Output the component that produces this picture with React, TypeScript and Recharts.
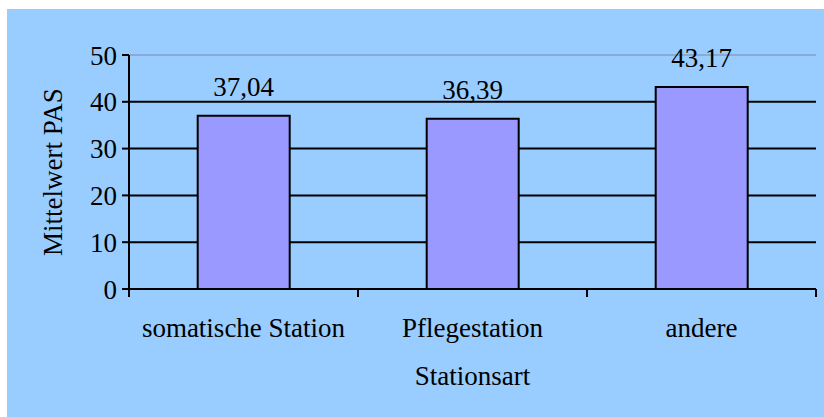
import React from 'react';
import { BarChart, Bar, XAxis, YAxis, CartesianGrid, LabelList, Label } from 'recharts';

// Mean PAS score per ward type
const stations = ['somatische Station', 'Pflegestation', 'andere'];
const meanPas = [37.04, 36.39, 43.17];
const yTicks = [0, 10, 20, 30, 40, 50];

const data = stations.map((station, i) => ({ station, pas: meanPas[i] }));

const FONT = '"Liberation Serif", "Times New Roman", serif';
const FONT_SIZE = 27;
const BG = '#99CCFF';
const BAR_FILL = '#9999FF';

const formatDe = (v: number) => v.toFixed(2).replace('.', ',');

// Category tick: label centred in the band, tick marks on the band boundaries
function StationTick(props: any) {
  const { x, y, payload } = props;
  const half = payload && typeof payload.offset === 'number' ? payload.offset : 0;
  return (
    <g>
      <line x1={x - half} y1={y} x2={x - half} y2={y + 8} stroke="#000" strokeWidth={2} />
      <line x1={x + half} y1={y} x2={x + half} y2={y + 8} stroke="#000" strokeWidth={2} />
      <text
        x={x}
        y={y + 48}
        textAnchor="middle"
        fontFamily={FONT}
        fontSize={FONT_SIZE}
        fill="#000"
      >
        {payload.value}
      </text>
    </g>
  );
}

// Horizontal grid: black rules, a thin grey line at the top of the plot
function GridLine(p: any) {
  const isTop = p.y1 < 60;
  return (
    <line
      key={`grid-${p.y1}`}
      x1={p.x1}
      y1={p.y1}
      x2={p.x2}
      y2={p.y2}
      stroke={isTop ? '#7a8aa6' : '#000'}
      strokeWidth={isTop ? 1 : 2}
    />
  );
}

export default function App() {
  return (
    <div style={{ position: 'absolute', left: 0, top: 0, width: 824, height: 417, background: '#fff' }}>
      <div style={{ position: 'absolute', left: 7, top: 9, width: 817, height: 408, background: BG }} />
      <div style={{ position: 'absolute', left: 0, top: 0 }}>
        <BarChart
          width={824}
          height={417}
          data={data}
          margin={{ top: 55, right: 8, bottom: 68, left: 49 }}
          barCategoryGap="30%"
        >
          <CartesianGrid vertical={false} horizontal={GridLine as any} />
          <XAxis
            dataKey="station"
            interval={0}
            height={60}
            tickLine={false}
            tickSize={0}
            tickMargin={0}
            axisLine={{ stroke: '#000', strokeWidth: 2 }}
            tick={<StationTick />}
          >
            <Label
              content={(props: any) => {
                const vb = props.viewBox || {};
                return (
                  <text
                    x={vb.x + vb.width / 2}
                    y={385}
                    textAnchor="middle"
                    fontFamily={FONT}
                    fontSize={FONT_SIZE}
                    fill="#000"
                  >
                    Stationsart
                  </text>
                );
              }}
            />
          </XAxis>
          <YAxis
            width={80}
            domain={[0, 50]}
            ticks={yTicks}
            interval={0}
            tickSize={7}
            tickMargin={5}
            tickLine={{ stroke: '#000', strokeWidth: 2 }}
            axisLine={{ stroke: '#000', strokeWidth: 2 }}
            tick={{ fontFamily: FONT, fontSize: FONT_SIZE, fill: '#000' }}
          >
            <Label
              content={(props: any) => {
                const vb = props.viewBox || {};
                const cy = vb.y + vb.height / 2;
                return (
                  <text
                    x={62}
                    y={cy}
                    transform={`rotate(-90 62 ${cy})`}
                    textAnchor="middle"
                    fontFamily={FONT}
                    fontSize={FONT_SIZE}
                    fill="#000"
                  >
                    Mittelwert PAS
                  </text>
                );
              }}
            />
          </YAxis>
          <Bar dataKey="pas" fill={BAR_FILL} stroke="#000" strokeWidth={2} isAnimationActive={false}>
            <LabelList
              dataKey="pas"
              position="top"
              offset={20}
              formatter={(v: any) => formatDe(Number(v))}
              style={{ fontFamily: FONT, fontSize: FONT_SIZE, fill: '#000' }}
            />
          </Bar>
        </BarChart>
      </div>
    </div>
  );
}
